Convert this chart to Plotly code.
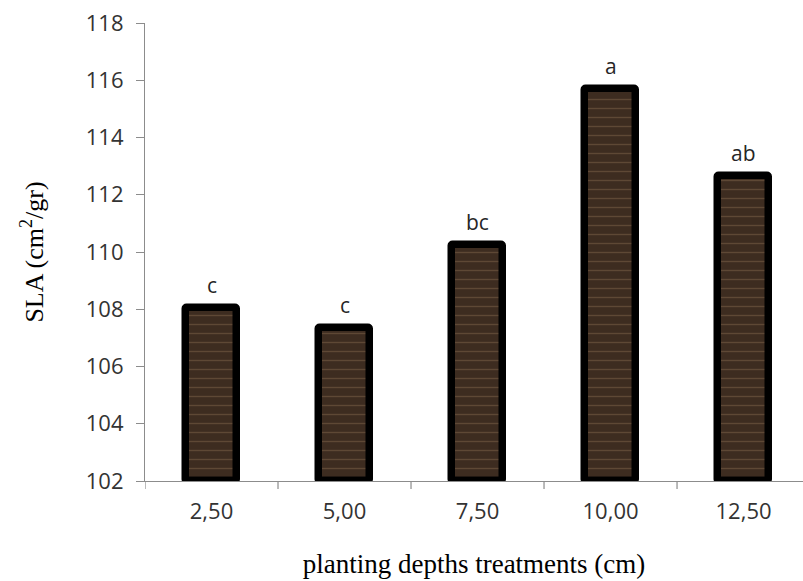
import plotly.graph_objects as go

categories = ["2,50", "5,00", "7,50", "10,00", "12,50"]
sla_values = [108.05, 107.35, 110.25, 115.7, 112.65]
group_letters = ["c", "c", "bc", "a", "ab"]
y_ticks = [102, 104, 106, 108, 110, 112, 114, 116, 118]

fig = go.Figure()
fig.add_trace(go.Bar(
    x=categories,
    y=[v - 102 for v in sla_values],
    base=102,
    width=0.39,
    marker=dict(
        color="#3d2c20",
        line=dict(color="#000000", width=7.5),
        pattern=dict(shape="-", fgcolor="#5e4835", bgcolor="#3d2c20",
                     size=9, solidity=0.15, fillmode="replace"),
        cornerradius=2,
    ),
    hoverinfo="skip",
))

for c, v, t in zip(categories, sla_values, group_letters):
    fig.add_annotation(x=c, y=v, text=t, showarrow=False, yanchor="bottom",
                       yshift=7, font=dict(family="Open Sans", size=21, color="#262626"))

axis_common = dict(showline=True, linecolor="#8c8c8c", linewidth=1.2,
                   tickcolor="#8c8c8c", ticklen=8, tickwidth=1.2,
                   showgrid=False, zeroline=False,
                   tickfont=dict(family="Open Sans", size=22, color="#333333"))

fig.update_layout(
    width=803, height=581,
    margin=dict(l=145, r=0, t=23, b=100),
    plot_bgcolor="white", paper_bgcolor="white",
    showlegend=False,
    bargap=0,
    xaxis=dict(**axis_common, type="category", range=[-0.5, 4.447], ticks="",
               tickvals=categories, ticktext=categories, ticklabelstandoff=10,
               title=dict(text="planting depths treatments (cm)", standoff=30,
                          font=dict(family="Liberation Serif", size=27, color="#000000"))),
    yaxis=dict(**axis_common, ticks="outside", range=[102, 118], tickvals=y_ticks,
               ticklabelstandoff=8,
               title=dict(text="SLA (cm<sup>2</sup>/gr)", standoff=34,
                          font=dict(family="Liberation Serif", size=26, color="#000000"))),
)

# category boundary ticks
for i in range(len(categories) + 1):
    fig.add_shape(type="line", xref="x", yref="paper", x0=i - 0.5, x1=i - 0.5,
                  y0=0, y1=-0.0175, line=dict(color="#8c8c8c", width=1.2))

fig.write_html("out.html")
